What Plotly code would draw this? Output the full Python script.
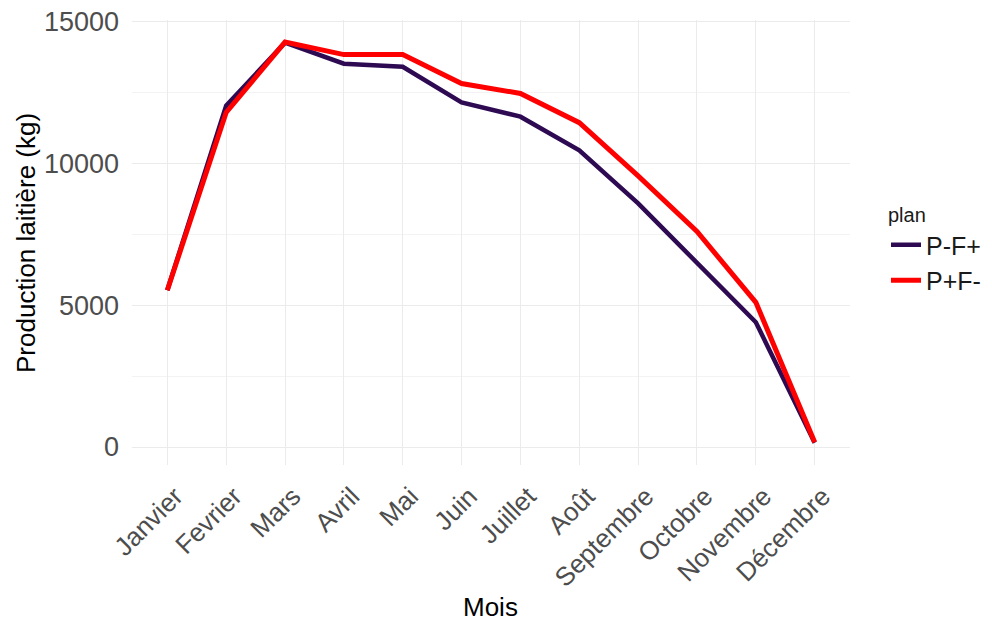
import plotly.graph_objects as go

mois = ["Janvier", "Fevrier", "Mars", "Avril", "Mai", "Juin", "Juillet",
        "Août", "Septembre", "Octobre", "Novembre", "Décembre"]
p_moins_f_plus = [5530, 12040, 14260, 13520, 13410, 12150, 11650, 10460, 8590, 6500, 4400, 150]
p_plus_f_moins = [5530, 11800, 14280, 13840, 13840, 12820, 12470, 11440, 9560, 7600, 5100, 170]
y_ticks = [0, 5000, 10000, 15000]

FONT = "Liberation Sans, Arial, sans-serif"
W, H = 992, 624
L, R, T, B = 124, 150, 12, 167
PW, PH = W - L - R, H - T - B


def px(xpix):
    return (xpix - L) / PW


def py(ypix):
    return (T + PH - ypix) / PH


fig = go.Figure()
fig.add_trace(go.Scatter(x=mois, y=p_moins_f_plus, mode="lines", name="P-F+",
                         line=dict(color="#2E0A52", width=4.5)))
fig.add_trace(go.Scatter(x=mois, y=p_plus_f_moins, mode="lines", name="P+F-",
                         line=dict(color="#FF0000", width=5)))

fig.update_layout(
    width=W, height=H,
    margin=dict(l=L, r=R, t=T, b=B, autoexpand=False),
    plot_bgcolor="white", paper_bgcolor="white",
    font=dict(family=FONT, color="#4D4D4D", size=26),
    showlegend=True,
    legend=dict(
        title=dict(text="plan", font=dict(size=20, color="#1A1A1A")),
        font=dict(size=25, color="#1A1A1A"),
        x=px(878), xref="paper", xanchor="left",
        y=py(188), yanchor="top",
        bgcolor="rgba(0,0,0,0)", tracegroupgap=0, itemwidth=30,
    ),
    xaxis=dict(
        type="category", categoryorder="array", categoryarray=mois,
        range=[-0.6, 11.6], tickangle=-45, automargin=False,
        ticklabelshift=8, ticklabelstandoff=10, ticklabeloverflow="allow",
        showgrid=True, gridcolor="#EBEBEB", gridwidth=1.2,
        zeroline=False, showline=False, ticks="",
        tickfont=dict(size=26, color="#4D4D4D"),
    ),
    yaxis=dict(
        range=[-635, 15060], tickvals=y_ticks, ticktext=[str(v) for v in y_ticks],
        automargin=False, ticklabelstandoff=12, ticklabeloverflow="allow",
        showgrid=True, gridcolor="#EBEBEB", gridwidth=1.2,
        minor=dict(dtick=2500, tick0=0, showgrid=True, gridcolor="#F3F3F3", gridwidth=0.8),
        zeroline=False, showline=False, ticks="",
        tickfont=dict(size=27, color="#4D4D4D"),
    ),
    annotations=[
        dict(text="Mois", x=px(482), y=py(599), xref="paper", yref="paper",
             xanchor="center", yanchor="middle",
             showarrow=False, font=dict(size=26, color="#000000")),
        dict(text="Production laitière (kg)", x=px(18), y=py(235), xref="paper", yref="paper",
             xanchor="center", yanchor="middle",
             textangle=-90, showarrow=False, font=dict(size=26, color="#000000")),
    ],
)

fig.write_html("out.html")
